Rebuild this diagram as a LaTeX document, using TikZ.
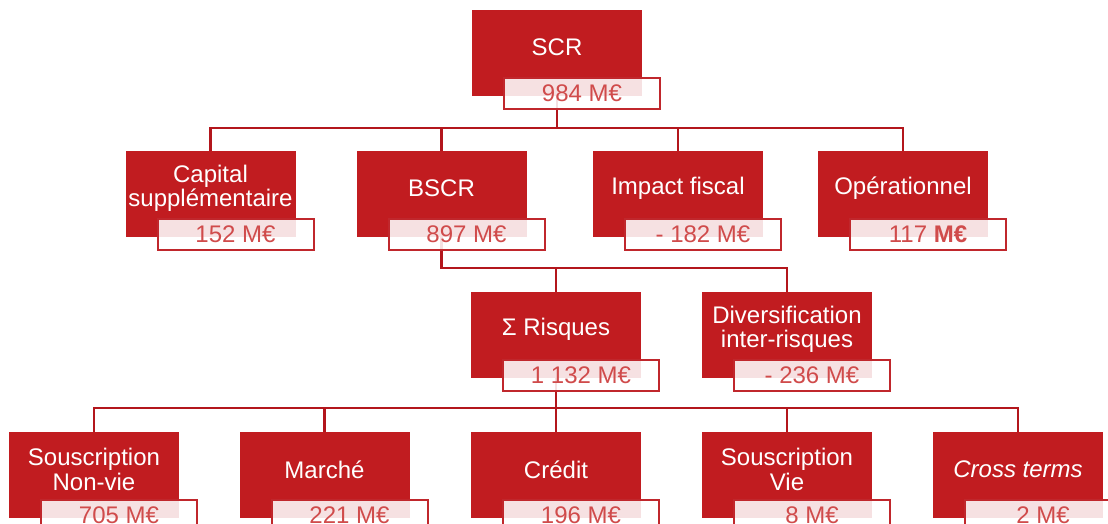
\documentclass[tikz,border=0pt]{standalone}
\usepackage{fontspec}
\setmainfont{Liberation Sans}
\usetikzlibrary{backgrounds}
\definecolor{boxred}{HTML}{C11C20}
\definecolor{linered}{HTML}{B3161C}
\definecolor{valred}{HTML}{D04B4B}
\definecolor{lblborder}{HTML}{C0272C}
\tikzset{
  redbox/.style={fill=boxred, minimum width=170pt, minimum height=86pt, inner sep=0pt, anchor=north},
  boxtext/.style={text=white, align=center, inner sep=0pt, font=\fontsize{24}{24.5}\selectfont},
  valbox/.style={fill=white, fill opacity=0.87, text opacity=1, draw=lblborder, line width=2pt,
     minimum width=156pt, minimum height=31pt, inner sep=0pt, text=valred, font=\fontsize{24}{24}\selectfont},
  conn/.style={draw=linered, line width=2.6pt}
}
\newcommand\blk[5]{%
  \node[redbox] (#1) at (#2,#3) {};
  \node[boxtext] (#1t) at (#2,#3+37.5) {#4};
  \node[valbox] (#1v) at (#2+25,#3+83.5) {#5};
}
\begin{document}
\begin{tikzpicture}[x=1pt,y=-1pt]
\useasboundingbox (0,0) rectangle (1108,524);
\clip (0,0) rectangle (1108,524);
\blk{scr}{557}{10}{SCR}{984 M€}
\blk{cap}{210.5}{151}{Capital\\supplémentaire}{152 M€}
\blk{bscr}{441.5}{151}{BSCR}{897 M€}
\blk{imp}{678}{151}{Impact fiscal}{- 182 M€}
\blk{op}{903}{151}{Opérationnel}{117 \textbf{M€}}
\blk{sig}{556}{292}{Σ Risques}{1 132 M€}
\blk{div}{787}{292}{Diversification\\inter-risques}{- 236 M€}
\blk{snv}{94}{432}{Souscription\\Non-vie}{705 M€}
\blk{mar}{324.5}{432}{Marché}{221 M€}
\blk{cre}{556}{432}{Crédit}{196 M€}
\blk{sv}{787}{432}{Souscription\\Vie}{8 M€}
\blk{ct}{1018}{432}{\textit{Cross terms}}{2 M€}
\begin{scope}[on background layer]
\coordinate (b1) at (557,128);
\coordinate (b2) at (441.5,268);
\coordinate (b3) at (556,408);
\draw[conn] (scr.south) -- (b1);
\draw[conn] (cap.north) |- (b1) -| (op.north);
\draw[conn] (bscr.north) -- (bscr.north |- b1);
\draw[conn] (imp.north) -- (imp.north |- b1);
\draw[conn] (bscr.south) -- (b2) -| (div.north);
\draw[conn] (sig.north) -- (sig.north |- b2);
\draw[conn] (sig.south) -- (b3);
\draw[conn] (snv.north) |- (b3) -| (ct.north);
\draw[conn] (mar.north) -- (mar.north |- b3);
\draw[conn] (cre.north) -- (cre.north |- b3);
\draw[conn] (sv.north) -- (sv.north |- b3);
\end{scope}
\end{tikzpicture}
\end{document}
